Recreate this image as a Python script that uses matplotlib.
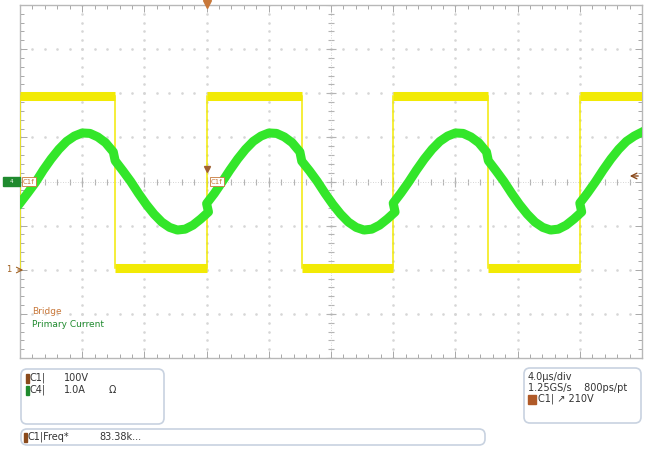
import matplotlib
matplotlib.use('Agg')
import matplotlib.pyplot as plt
import numpy as np
from matplotlib.patches import FancyBboxPatch, Rectangle

edge_times = [0.0, 1.53, 3.0, 4.53, 6.0, 7.53, 9.0, 10.0]  # bridge switching instants, last = screen end
bridge_levels = [1.93, -1.95, 1.93, -1.95, 1.93, -1.95, 1.93]
bridge_low = -1.95
bridge_high = 1.93

sample_step = 0.125  # div between current readings
current_segments = [
    [-0.49, -0.26, -0.02, 0.26, 0.51, 0.73, 0.91, 1.03, 1.10, 1.09, 1.01, 0.88, 0.67],
    [0.47, 0.24, 0.0, -0.27, -0.52, -0.74, -0.92, -1.04, -1.10, -1.08, -0.99, -0.85, -0.69],
    [-0.50, -0.27, -0.01, 0.26, 0.51, 0.73, 0.91, 1.03, 1.10, 1.09, 1.01, 0.88, 0.67],
    [0.46, 0.24, 0.0, -0.27, -0.52, -0.74, -0.92, -1.04, -1.10, -1.08, -0.99, -0.85, -0.69],
    [-0.49, -0.26, -0.01, 0.26, 0.51, 0.73, 0.91, 1.03, 1.10, 1.09, 1.01, 0.88, 0.67],
    [0.47, 0.24, 0.0, -0.27, -0.52, -0.74, -0.92, -1.04, -1.10, -1.08, -0.99, -0.85, -0.69],
    [-0.49, -0.26, -0.01, 0.26, 0.51, 0.73, 0.91, 1.03, 1.12],
]

trace_names = ['Bridge', 'Primary Current']
channel_rows = [('C1|', '100V', ''), ('C4|', '1.0A', '\u03a9')]
timebase = ['4.0\u00b5s/div', '1.25GS/s    800ps/pt', 'C1| \u2197 210V']
meas_label = 'C1|Freq*'
meas_value = '83.38k...'

YELLOW = '#f2ea05'
GREEN = '#33e62a'
ORANGE = '#c8783a'
BROWN = '#8a4a1c'
DKGREEN = '#1f8a2e'
GRIDC = '#d6d6d6'


def main():
    fig = plt.figure(figsize=(6.46, 4.49), dpi=100)
    W, H = 646, 449
    ax = fig.add_axes([20 / W, (H - 358) / H, 622 / W, 353 / H])
    ax.set_xlim(0, 10)
    ax.set_ylim(-4, 4)

    # graticule
    for gx in range(1, 10):
        if gx == 5:
            continue
        yy = np.arange(-4, 4.001, 0.2)
        ax.plot(np.full_like(yy, gx), yy, ls='none', marker='s', ms=0.8, color=GRIDC, zorder=1)
    for gy in range(-3, 4):
        if gy == 0:
            continue
        xx = np.arange(0, 10.001, 0.2)
        ax.plot(xx, np.full_like(xx, gy), ls='none', marker='s', ms=0.8, color=GRIDC, zorder=1)
    xx = np.arange(0, 10.001, 0.2)
    ax.plot(xx, 0 * xx, ls='none', marker='|', ms=4, mew=0.8, color='#b4b4b4', zorder=1)
    ax.plot(np.arange(0, 11), np.zeros(11), ls='none', marker='|', ms=7, mew=0.8, color='#b4b4b4', zorder=1)
    ax.plot(xx, 0 * xx, ls=(0, (1, 2)), lw=0.6, color='#c8c8c8', zorder=1)
    yy = np.arange(-4, 4.001, 0.2)
    ax.plot(5 + 0 * yy, yy, ls='none', marker='_', ms=4, mew=0.8, color='#b4b4b4', zorder=1)
    ax.plot(np.full(9, 5.0), np.arange(-4, 5), ls='none', marker='_', ms=7, mew=0.8, color='#b4b4b4', zorder=1)
    ax.plot(5 + 0 * yy, yy, ls=(0, (1, 2)), lw=0.6, color='#c8c8c8', zorder=1)

    ax.set_xticks(np.arange(0, 11, 1))
    ax.set_yticks(np.arange(-4, 5, 1))
    ax.set_xticks(np.arange(0, 10.01, 0.2), minor=True)
    ax.set_yticks(np.arange(-4, 4.01, 0.2), minor=True)
    ax.tick_params(which='both', direction='in', top=True, right=True,
                   labelbottom=False, labelleft=False, color='#a8a8a8', width=0.7)
    ax.tick_params(which='major', length=5)
    ax.tick_params(which='minor', length=3)
    for s in ax.spines.values():
        s.set_color('#b8b8b8')
        s.set_linewidth(1.0)

    # bridge voltage (C1)
    for i in range(len(bridge_levels)):
        ax.plot([edge_times[i], edge_times[i + 1]], [bridge_levels[i]] * 2,
                color=YELLOW, lw=6.5, solid_capstyle='butt', zorder=3)
    for t in edge_times[:-1]:
        ax.plot([t, t], [bridge_low, bridge_high], color=YELLOW, lw=1.1, zorder=3)

    # primary current (C4)
    ts, vs = [], []
    for i, seg in enumerate(current_segments):
        ts.extend(edge_times[i] + np.arange(len(seg)) * sample_step)
        vs.extend(seg)
    ax.plot(ts, vs, color=GREEN, lw=6.5, solid_joinstyle='round', zorder=4)

    # legend text
    ax.text(0.2, -2.94, trace_names[0], color=ORANGE, fontsize=6.5, va='center')
    ax.text(0.2, -3.24, trace_names[1], color=DKGREEN, fontsize=6.5, va='center')

    # overlay in pixel coordinates for markers and info boxes
    ov = fig.add_axes([0, 0, 1, 1])
    ov.set_xlim(0, W)
    ov.set_ylim(H, 0)
    ov.axis('off')
    ov.patch.set_alpha(0)

    # trigger markers
    ov.plot([207], [4], marker='v', ms=6, color=ORANGE, ls='none', zorder=6)
    ov.plot([207], [169], marker='v', ms=5, color='#a06030', ls='none', zorder=6)
    ov.annotate('', xy=(627, 176), xytext=(641, 176),
                arrowprops=dict(arrowstyle='->', color=BROWN, lw=1))
    ov.add_patch(Rectangle((3, 177), 17, 9, color=DKGREEN, zorder=6))
    ov.text(11, 181.5, '4', color='white', fontsize=4, ha='center', va='center', zorder=7)
    for x0 in (23, 211):
        ov.text(x0, 181.5, 'C1f', color=ORANGE, fontsize=5, va='center', zorder=7,
                bbox=dict(boxstyle='square,pad=0.15', fc='white', ec=ORANGE, lw=0.6))
    ov.text(9, 270, '1', color='#a06020', fontsize=6, ha='center', va='center')
    ov.annotate('', xy=(26, 270), xytext=(15, 270),
                arrowprops=dict(arrowstyle='->', color='#a06020', lw=0.8))

    # info boxes
    box_kw = dict(boxstyle='round,pad=0,rounding_size=6', fc='white', ec='#c8d2e0', lw=1.2)
    ov.add_patch(FancyBboxPatch((21, 369), 143, 55, **box_kw))
    ov.add_patch(FancyBboxPatch((21, 429), 464, 16, **box_kw))
    ov.add_patch(FancyBboxPatch((524, 368), 117, 55, **box_kw))

    txt = dict(fontsize=7, color='#333333', va='center')
    cols = [BROWN, DKGREEN]
    for k, (ch, scale, extra) in enumerate(channel_rows):
        y = 378 + 12 * k
        ov.add_patch(Rectangle((26, y - 4.5), 3, 9, color=cols[k]))
        ov.text(30, y, ch, **txt)
        ov.text(64, y, scale, **txt)
        ov.text(109, y, extra, **txt)

    ov.add_patch(Rectangle((24, 432.5), 3, 9, color=BROWN))
    ov.text(28, 437, meas_label, **txt)
    ov.text(99, 437, meas_value, **txt)

    ov.text(528, 377, timebase[0], **txt)
    ov.text(528, 388, timebase[1], **txt)
    ov.add_patch(Rectangle((528, 394.5), 8, 9, color='#b05a28'))
    ov.text(538, 399, timebase[2], **txt)

    fig.savefig('out.png', dpi=100)


if __name__ == '__main__':
    main()
